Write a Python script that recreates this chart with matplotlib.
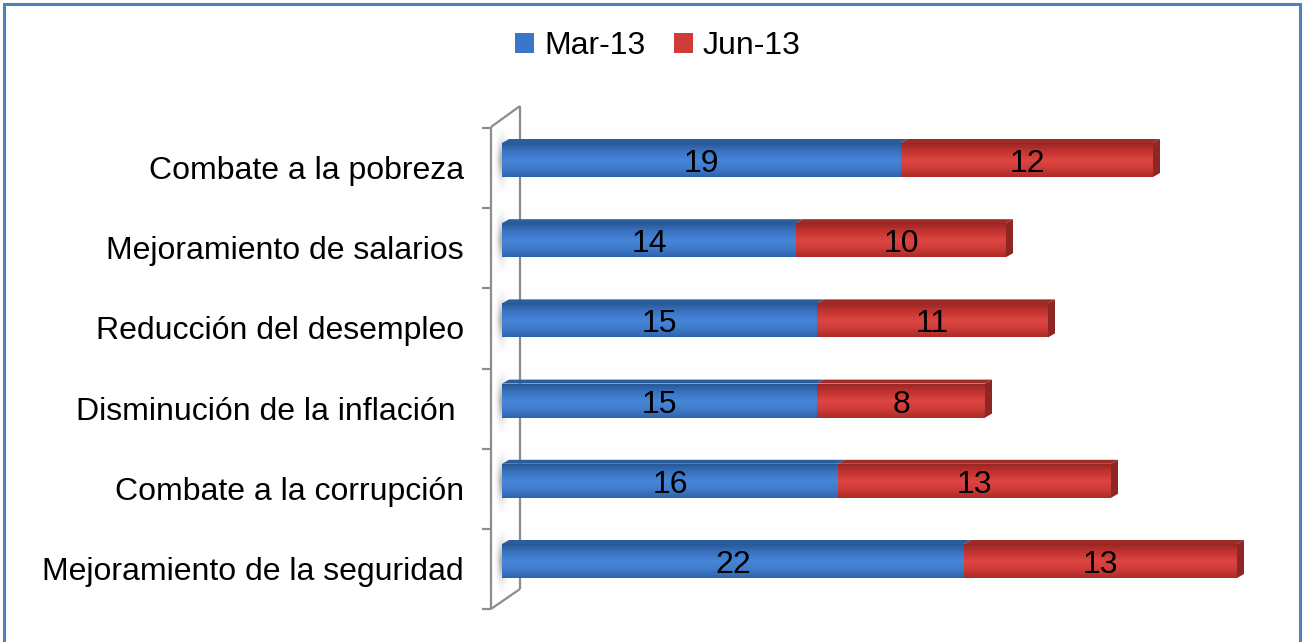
import numpy as np
import matplotlib
matplotlib.use("Agg")
import matplotlib.pyplot as plt
from matplotlib.patches import Polygon, Rectangle
from matplotlib.colors import LinearSegmentedColormap

plt.rcParams['font.family'] = ['Liberation Sans', 'DejaVu Sans']

categories = ["Mejoramiento de la seguridad", "Combate a la corrupción",
              "Disminución de la inflación ", "Reducción del desempleo",
              "Mejoramiento de salarios", "Combate a la pobreza"]
mar13 = [22, 16, 15, 15, 14, 19]
jun13 = [13, 13, 8, 11, 10, 12]
series_names = ["Mar-13", "Jun-13"]

W, H = 1306, 642
fig = plt.figure(figsize=(W / 100, H / 100), dpi=100)
ax = fig.add_axes([0, 0, 1, 1])

# pixel mapping: value 0 at x=502, 21 px per unit; category 0 at y=559, 80.2 px apart
sx, x0 = 21.0, 502.0
sy, y0 = 80.2, 559.0
ax.set_xlim(-x0 / sx, (W - x0) / sx)
ax.set_ylim((y0 - H) / sy, y0 / sy)
ax.axis('off')

def px(x):
    return (x - x0) / sx

def py(y):
    return (y0 - y) / sy

pos = np.arange(len(categories))
bh = 34 / sy           # front face height
dx, dy = 7 / sx, 4 / sy  # 3d depth
cy = pos - 2 / sy

# side wall
wall = dict(color='#8c8c8c', lw=1.6, zorder=1, solid_capstyle='butt')
ax.plot([px(491), px(491)], [py(127), py(609)], **wall)
ax.plot([px(520), px(520)], [py(106), py(589)], **wall)
ax.plot([px(491), px(520)], [py(127), py(106)], **wall)
ax.plot([px(491), px(520)], [py(609), py(589)], **wall)
ticks_y = np.concatenate([pos - 0.5, [pos[-1] + 0.5]]) - 10 / sy
for t in ticks_y:
    ax.plot([px(482), px(491)], [t, t], **wall)

# soft shadow of each bar on the wall
sh_cmap = LinearSegmentedColormap.from_list('sh', ['#ffffff', '#b0b0b0'])
sh = np.outer(np.exp(-np.linspace(-1.6, 1.6, 40) ** 2 * 1.2),
              np.exp(-np.linspace(-1, 1, 20) ** 2 * 2.5))
for c in cy:
    ax.imshow(sh, extent=[px(495), px(509), c - bh / 2 - 14 / sy, c + bh / 2 + 14 / sy],
              aspect='auto', cmap=sh_cmap, vmin=0, vmax=1, zorder=1.5,
              interpolation='bilinear')

blue_grad = LinearSegmentedColormap.from_list('b', ['#2a5898', '#3a74c2', '#4686d6', '#3f7bcc', '#2f64ab'])
red_grad = LinearSegmentedColormap.from_list('r', ['#9a2725', '#c43431', '#dc4642', '#cf3b37', '#a92c29'])
colors = [('#3b77c8', blue_grad, '#2b5c9c'),
          ('#cf3b37', red_grad, '#9e2b28')]

lefts = np.zeros(len(categories))
bars = []
for k, vals in enumerate([mar13, jun13]):
    base, cmap, topc = colors[k]
    b = ax.barh(cy, vals, left=lefts, height=bh, color=base, zorder=3,
                label=series_names[k])
    bars.append(b)
    grad = np.linspace(0, 1, 60)[:, None]
    for p, v, l in zip(b.patches, vals, lefts):
        y_lo, y_hi = p.get_y(), p.get_y() + p.get_height()
        im = ax.imshow(grad, extent=[l, l + v, y_lo, y_hi], aspect='auto',
                       cmap=cmap, origin='upper', zorder=3.1, interpolation='bilinear')
        im.set_clip_path(p)
        ax.add_patch(Polygon([[l, y_hi], [l + v, y_hi], [l + v + dx, y_hi + dy],
                              [l + dx, y_hi + dy]], closed=True, fc=topc, ec='none', zorder=3.2))
        ax.text(l + v / 2, (y_lo + y_hi) / 2 - 4 / sy, str(v), ha='center', va='center',
                fontsize=23, color='black', zorder=5)
    lefts = lefts + np.array(vals)

# right end faces
for p, tot in zip(bars[1].patches, lefts):
    y_lo, y_hi = p.get_y(), p.get_y() + p.get_height()
    ax.add_patch(Polygon([[tot, y_lo], [tot, y_hi], [tot + dx, y_hi + dy],
                          [tot + dx, y_lo + dy]], closed=True, fc='#8e2624', ec='none', zorder=3.2))

for i, c in enumerate(categories):
    ax.text(px(464), pos[i] - 13 / sy, c, ha='right', va='center', fontsize=23, color='black')

leg = fig.legend(handles=bars, labels=series_names, loc='center', bbox_to_anchor=(658 / W, 1 - 46 / H),
                 ncol=2, frameon=False, fontsize=23, handlelength=0.6, handleheight=0.6,
                 handletextpad=0.3, columnspacing=0.9, borderaxespad=0)

# outer frame
fig.add_artist(Rectangle((4 / W, -0.01), 1296 / W, 1.01 - 4 / H, transform=fig.transFigure,
                         fill=False, ec='#4f81bd', lw=2.2))

fig.savefig('out.png', dpi=100)
